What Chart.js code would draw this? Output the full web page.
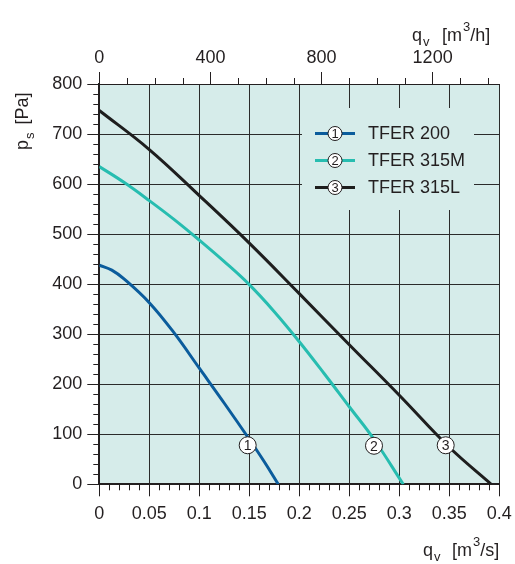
<!DOCTYPE html>
<html>
<head>
<meta charset="utf-8">
<title>TFER fan curves</title>
<script src="https://cdn.jsdelivr.net/npm/chart.js@4.4.1/dist/chart.umd.min.js"></script>
<style>
  html, body { margin: 0; padding: 0; background: #fff; }
  canvas { display: block; }
</style>
</head>
<body>
<canvas id="chart" width="515" height="564"></canvas>
<script>
// curve values: airflow q_v [m3/s] and pressure p_s [Pa]
const seriesNames = ['TFER 200', 'TFER 315M', 'TFER 315L'];
const seriesColors = ['#0b5c9c', '#27bdb0', '#1e1e1e'];

const q200 = [0, 0.0125, 0.025, 0.05, 0.075, 0.1, 0.125, 0.15, 0.165, 0.179];
const p200 = [438, 428, 410, 363, 302, 232, 162, 90, 45, 0];

const q315M = [0, 0.025, 0.05, 0.075, 0.1, 0.125, 0.15, 0.175, 0.2, 0.225, 0.25, 0.275, 0.304];
const p315M = [635, 603, 567, 529, 488, 445, 399, 345, 285, 221, 155, 89, 0];

const q315L = [0, 0.05, 0.1, 0.15, 0.2, 0.25, 0.3, 0.35, 0.392];
const p315L = [747, 669, 577, 482, 381, 279, 178, 74, 0];

// numbered markers on each curve
const markerQ = [0.1484, 0.2747, 0.3464];
const markerP = [78, 77, 78];

// axis ranges / ticks
const qMax = 0.4, qStep = 0.05, qMinor = 0.01;
const pMax = 800, pStep = 100, pMinor = 20;
const hMax = qMax * 3600, hMinor = 100;
const hTicks = [0, 400, 800, 1200];   // top axis, m3/h

const FONT = "'Liberation Sans', Arial, Helvetica, sans-serif";
const INK = '#231f20';
const PLOT_BG = '#d6ecea';

function pts(qs, ps) { return qs.map((q, i) => ({ x: q, y: ps[i] })); }

const bgPlugin = {
  id: 'plotBg',
  beforeDraw(chart) {
    const a = chart.chartArea, ctx = chart.ctx;
    ctx.save();
    ctx.fillStyle = PLOT_BG;
    ctx.fillRect(a.left, a.top, a.right - a.left, a.bottom - a.top);
    ctx.restore();
  }
};

// minor tick marks + legend + markers + axis titles
const extras = {
  id: 'extras',
  beforeDatasetsDraw(chart) {
    const ctx = chart.ctx, a = chart.chartArea;
    const sx = chart.scales.x, sy = chart.scales.y, st = chart.scales.xTop;
    ctx.save();
    ctx.strokeStyle = INK;
    ctx.lineWidth = 1;
    ctx.beginPath();
    for (let i = 1; i * qMinor < qMax + 1e-9; i++) {
      if (i % 5 === 0) continue;
      const x = Math.round(sx.getPixelForValue(i * qMinor)) + 0.5;
      ctx.moveTo(x, a.bottom); ctx.lineTo(x, a.bottom + 6);
    }
    for (let i = 1; i * pMinor < pMax; i++) {
      if (i % 5 === 0) continue;
      const y = Math.round(sy.getPixelForValue(i * pMinor)) + 0.5;
      ctx.moveTo(a.left - 6, y); ctx.lineTo(a.left, y);
    }
    for (let i = 1; i * hMinor < hMax; i++) {
      if (i % 4 === 0) continue;
      const x = Math.round(st.getPixelForValue(i * hMinor)) + 0.5;
      ctx.moveTo(x, a.top - 6); ctx.lineTo(x, a.top);
    }
    ctx.stroke();

    // legend panel (covers grid lines)
    ctx.fillStyle = PLOT_BG;
    ctx.fillRect(302, 108, 172, 102);
    seriesNames.forEach((name, i) => {
      const y = 133.5 + i * 27;
      ctx.strokeStyle = seriesColors[i];
      ctx.lineWidth = 3;
      ctx.beginPath(); ctx.moveTo(315, y); ctx.lineTo(355, y); ctx.stroke();
      circleLabel(ctx, 335, y, 7, String(i + 1), 13);
      ctx.fillStyle = INK;
      ctx.font = '18px ' + FONT;
      ctx.textAlign = 'left';
      ctx.textBaseline = 'middle';
      ctx.fillText(name, 368, y + 1);
    });
    ctx.restore();
  },
  afterDatasetsDraw(chart) {
    const ctx = chart.ctx;
    const sx = chart.scales.x, sy = chart.scales.y;
    ctx.save();
    markerQ.forEach((q, i) => {
      circleLabel(ctx, sx.getPixelForValue(q), sy.getPixelForValue(markerP[i]), 8.5, String(i + 1), 14);
    });
    ctx.restore();
  },
  afterDraw(chart) {
    const ctx = chart.ctx;
    ctx.save();
    ctx.fillStyle = INK;
    ctx.textAlign = 'left';
    ctx.textBaseline = 'alphabetic';
    unitTitle(ctx, 412, 41, 'q', 'v', '[m', '3', '/h]', 442);
    unitTitle(ctx, 423, 556, 'q', 'v', '[m', '3', '/s]', 452);
    // rotated y title
    ctx.translate(28, 150);
    ctx.rotate(-Math.PI / 2);
    ctx.font = '18px ' + FONT;
    ctx.fillText('p', 0, 0);
    let w = ctx.measureText('p').width;
    ctx.font = '13px ' + FONT;
    ctx.fillText('s', w + 1, 6);
    w += ctx.measureText('s').width + 1;
    ctx.font = '18px ' + FONT;
    ctx.fillText('[Pa]', w + 8, 0);
    ctx.restore();
  }
};

function circleLabel(ctx, x, y, r, txt, size) {
  ctx.save();
  ctx.beginPath();
  ctx.arc(x, y, r, 0, Math.PI * 2);
  ctx.fillStyle = '#fff';
  ctx.fill();
  ctx.lineWidth = 1;
  ctx.strokeStyle = INK;
  ctx.stroke();
  ctx.fillStyle = INK;
  ctx.font = size + 'px ' + FONT;
  ctx.textAlign = 'center';
  ctx.textBaseline = 'middle';
  ctx.fillText(txt, x, y + 1);
  ctx.restore();
}

function unitTitle(ctx, x, base, main, sub, unit, sup, rest, unitX) {
  ctx.font = '18px ' + FONT;
  ctx.fillText(main, x, base);
  const w = ctx.measureText(main).width;
  ctx.font = '13px ' + FONT;
  ctx.fillText(sub, x + w + 1, base + 5);
  ctx.font = '18px ' + FONT;
  ctx.fillText(unit, unitX, base);
  let ux = unitX + ctx.measureText(unit).width;
  ctx.font = '13px ' + FONT;
  ctx.fillText(sup, ux + 1, base - 10);
  ux += ctx.measureText(sup).width + 1;
  ctx.font = '18px ' + FONT;
  ctx.fillText(rest, ux, base);
}

const lineSet = (i, qs, ps) => ({
  label: seriesNames[i],
  data: pts(qs, ps),
  borderColor: seriesColors[i],
  backgroundColor: seriesColors[i],
  borderWidth: 3,
  pointRadius: 0,
  showLine: true,
  tension: 0.4,
  fill: false
});

const tickFont = { family: FONT, size: 18 };

// keep the plot box fixed: no extra room for overhanging tick labels
function noOverhang(s) {
  s.paddingLeft = 0; s.paddingRight = 0;
  s.paddingTop = 0; s.paddingBottom = 0;
}

new Chart(document.getElementById('chart'), {
  type: 'scatter',
  data: {
    datasets: [
      lineSet(0, q200, p200),
      lineSet(1, q315M, p315M),
      lineSet(2, q315L, p315L)
    ]
  },
  options: {
    responsive: false,
    animation: false,
    layout: { padding: { left: 0, right: 15.7, top: 0, bottom: 0 } },
    plugins: { legend: { display: false }, tooltip: { enabled: false } },
    scales: {
      x: {
        type: 'linear', position: 'bottom', min: 0, max: qMax,
        ticks: {
          stepSize: qStep, autoSkip: false, maxRotation: 0, padding: 7,
          color: INK, font: tickFont,
          callback: v => String(Math.round(v * 100) / 100)
        },
        grid: { color: '#2b2b2b', lineWidth: 1, tickLength: 12, tickColor: INK },
        border: { display: true, color: INK, width: 2 },
        afterFit(s) { s.height = 79.7; noOverhang(s); }
      },
      xTop: {
        type: 'linear', position: 'top', min: 0, max: hMax,
        afterBuildTicks(s) { s.ticks = hTicks.map(v => ({ value: v })); },
        ticks: {
          autoSkip: false, maxRotation: 0, padding: 3,
          color: INK, font: tickFont,
          callback: v => String(v)
        },
        grid: { drawOnChartArea: false, tickLength: 12, tickColor: INK },
        border: { display: true, color: INK, width: 1 },
        afterFit(s) { s.height = 84; noOverhang(s); }
      },
      y: {
        type: 'linear', min: 0, max: pMax,
        ticks: { stepSize: pStep, padding: 5, color: INK, font: tickFont },
        grid: { color: '#2b2b2b', lineWidth: 1, tickLength: 12, tickColor: INK },
        border: { display: true, color: INK, width: 2 },
        afterFit(s) { s.width = 99.3; noOverhang(s); }
      }
    }
  },
  plugins: [bgPlugin, extras]
});
</script>
</body>
</html>
